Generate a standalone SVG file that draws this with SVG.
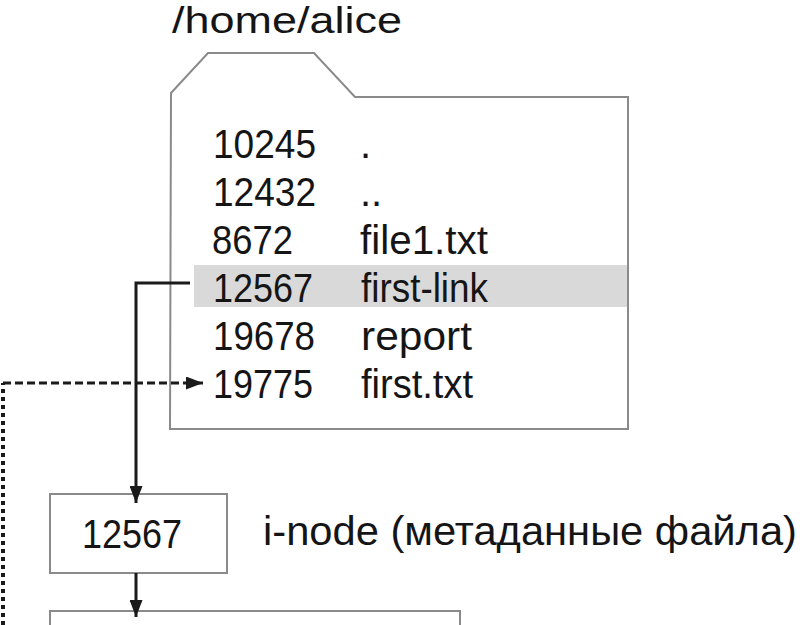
<svg xmlns="http://www.w3.org/2000/svg" width="807" height="625" viewBox="0 0 807 625">
<style>
  text { font-family: "Liberation Sans", Arial, sans-serif; fill: #151515; }
  .row { font-size: 40px; }
  .title { font-size: 36px; }
  .shape { fill: #ffffff; stroke: #8a8a8a; stroke-width: 2; }
  .conn { fill: none; stroke: #1a1a1a; stroke-width: 3; }
  .dash { fill: none; stroke: #1a1a1a; stroke-width: 3; stroke-dasharray: 8 4; }
  .dot { fill: none; stroke: #1a1a1a; stroke-width: 4; stroke-dasharray: 4 4; }
</style>
<defs>
  <marker id="arr" markerWidth="17" markerHeight="13" refX="17" refY="6.5" orient="auto" markerUnits="userSpaceOnUse">
    <path d="M0,0 L17,6.5 L0,13 Z" fill="#1a1a1a"/>
  </marker>
</defs>
<rect width="807" height="625" fill="#ffffff"/>

<g id="dir-alice">
  <text class="title" x="172" y="33" textLength="230" lengthAdjust="spacingAndGlyphs">/home/alice</text>
  <path class="shape" d="M171,93 L208,53 L314,53 L355,97 L628,97 L628,429 L170,429 Z"/>
  <rect x="194" y="265" width="433" height="42" fill="#d9d9d9"/>
  <g class="row">
    <text x="213" y="158" textLength="103" lengthAdjust="spacingAndGlyphs">10245</text>
    <text x="360" y="158">.</text>
    <text x="213" y="206" textLength="103" lengthAdjust="spacingAndGlyphs">12432</text>
    <text x="360" y="206">..</text>
    <text x="212" y="254" textLength="81" lengthAdjust="spacingAndGlyphs">8672</text>
    <text x="360" y="254" textLength="128" lengthAdjust="spacingAndGlyphs">file1.txt</text>
    <text x="213" y="302" textLength="100" lengthAdjust="spacingAndGlyphs">12567</text>
    <text x="361" y="302" textLength="127" lengthAdjust="spacingAndGlyphs">first-link</text>
    <text x="213" y="350" textLength="102" lengthAdjust="spacingAndGlyphs">19678</text>
    <text x="361" y="350" textLength="111" lengthAdjust="spacingAndGlyphs">report</text>
    <text x="213" y="398" textLength="100" lengthAdjust="spacingAndGlyphs">19775</text>
    <text x="361" y="398" textLength="112" lengthAdjust="spacingAndGlyphs">first.txt</text>
  </g>
</g>

<g id="inode">
  <rect class="shape" x="50" y="494" width="177" height="79"/>
  <text class="row" x="82" y="548" textLength="100" lengthAdjust="spacingAndGlyphs">12567</text>
  <text class="row" x="263" y="545" font-size="38" textLength="534" lengthAdjust="spacingAndGlyphs">i-node (метаданные файла)</text>
</g>

<g id="data">
  <rect class="shape" x="50" y="611" width="410" height="30"/>
</g>

<g id="connectors">
  <path class="dot" d="M3,625 L3,383"/>
  <path class="dash" d="M3,383 L203,383" marker-end="url(#arr)"/>
  <path class="conn" d="M190,283 L136,283 L136,503" marker-end="url(#arr)"/>
  <path class="conn" d="M136,573 L136,617" marker-end="url(#arr)"/>
</g>
</svg>
